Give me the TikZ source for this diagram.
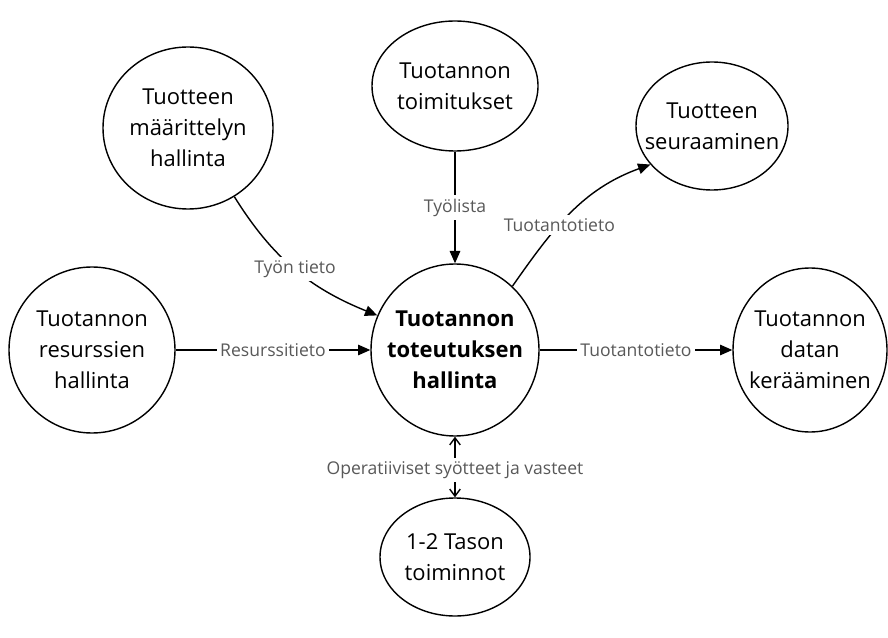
\documentclass[tikz,border=0pt]{standalone}
\usepackage{fontspec}
\setmainfont{Open Sans}
\usetikzlibrary{shapes.geometric,arrows.meta}

\newcommand\pkt{0.02cm}
\tikzset{
  toiminto/.style={draw, thick, ellipse, align=center, inner sep=-30pt,
    font=\fontsize{12.5}{17.5}\selectfont},
  koko/.style 2 args={minimum width=#1*\pkt, minimum height=#2*\pkt},
  virta/.style={thick, -{Triangle[length=7pt,width=6pt]}},
  tieto/.style={fill=white, text=black!65, inner sep=2pt,
    font=\fontsize{10}{12}\selectfont},
}

\begin{document}
\begin{tikzpicture}[x=0.02cm, y=-0.02cm]
    \useasboundingbox (0,0) rectangle (888,638);

    % ─────────── keskus ─────────────────────────────────────────────────
    \node[toiminto, koko={168}{172},
          font=\fontsize{12.5}{17.5}\selectfont\bfseries] (toteutus) at (455,350)
          {Tuotannon\\toteutuksen\\hallinta};

    % ─────────── ympäröivät toiminnot ───────────────────────────────────
    \node[toiminto, koko={166}{130}] (toimitukset) at (455,86)
          {Tuotannon\\toimitukset};
    \node[toiminto, koko={170}{162}] (maarittely) at (188,128)
          {Tuotteen\\määrittelyn\\hallinta};
    \node[toiminto, koko={152}{128}] (seuraaminen) at (712,126)
          {Tuotteen\\seuraaminen};
    \node[toiminto, koko={166}{166}] (resurssit) at (92,350)
          {Tuotannon\\resurssien\\hallinta};
    \node[toiminto, koko={154}{164}] (keraaminen) at (810,350)
          {Tuotannon\\datan\\kerääminen};
    \node[toiminto, koko={150}{118}] (taso) at (455,557)
          {1-2 Tason\\toiminnot};

    % ─────────── tietovirrat ────────────────────────────────────────────
    \draw[virta] (toimitukset) -- node[tieto] {Työlista} (toteutus);
    \draw[virta] (maarittely.-56) to[out=-58, in=158]
          node[tieto, pos=0.5] {Työn tieto} (toteutus.156);
    \draw[virta] (toteutus.48) to[out=55, in=200]
          node[tieto, pos=0.4] {Tuotantotieto} (seuraaminen.212);
    \draw[virta] (resurssit) -- node[tieto] {Resurssitieto} (toteutus);
    \draw[virta] (toteutus) -- node[tieto] {Tuotantotieto} (keraaminen);
    \draw[thick, {Straight Barb[length=4pt,width=6pt]}-{Straight Barb[length=4pt,width=6pt]}]
          (toteutus) -- node[tieto, pos=0.55] {Operatiiviset syötteet ja vasteet} (taso);
  \end{tikzpicture}
\end{document}
